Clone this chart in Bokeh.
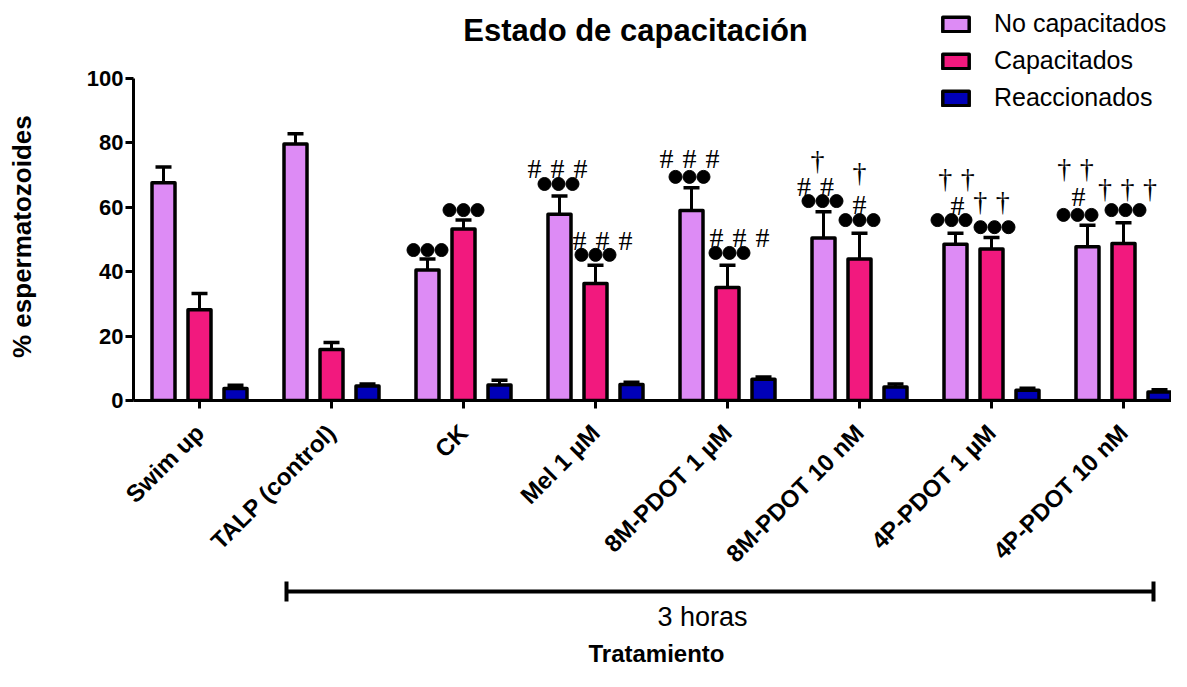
import numpy as np
from bokeh.plotting import figure
from bokeh.models import Range1d, FixedTicker, Legend, LegendItem, ColumnDataSource, Label
from bokeh.layouts import column
from bokeh.core.properties import value
from bokeh.embed import file_html
from bokeh.resources import INLINE

# ---------------- data ----------------
categories = ["Swim up", "TALP (control)", "CK", "Mel 1 µM", "8M-PDOT 1 µM",
              "8M-PDOT 10 nM", "4P-PDOT 1 µM", "4P-PDOT 10 nM"]
series_names = ["No capacitados", "Capacitados", "Reaccionados"]

no_cap = [67.6, 79.6, 40.5, 57.8, 59.0, 50.4, 48.5, 47.7]
no_cap_err = [4.9, 3.2, 3.4, 5.7, 7.0, 8.2, 3.4, 6.7]
cap = [28.2, 15.8, 53.2, 36.3, 35.1, 43.9, 47.0, 48.7]
cap_err = [5.0, 2.2, 2.8, 5.7, 6.9, 8.0, 3.6, 6.5]
react = [3.7, 4.5, 4.8, 5.0, 6.6, 4.2, 3.2, 2.6]
react_err = [1.0, 0.6, 1.5, 0.7, 0.7, 0.9, 0.6, 0.7]

# significance marks: (category index, series index, symbol, count, y level)
annotations = [
    (2, 0, "dot", 3, 46.7), (2, 1, "dot", 3, 59.1),
    (3, 0, "#", 3, 72.1), (3, 0, "dot", 3, 67.2),
    (3, 1, "#", 3, 49.8), (3, 1, "dot", 3, 45.2),
    (4, 0, "#", 3, 75.2), (4, 0, "dot", 3, 69.4),
    (4, 1, "#", 3, 50.5), (4, 1, "dot", 3, 45.8),
    (5, 0, "†", 1, 74.6), (5, 0, "#", 2, 66.3), (5, 0, "dot", 3, 61.9),
    (5, 1, "†", 1, 70.7), (5, 1, "#", 1, 60.7), (5, 1, "dot", 3, 56.0),
    (6, 0, "†", 2, 68.9), (6, 0, "#", 1, 60.4), (6, 0, "dot", 3, 56.0),
    (6, 1, "†", 2, 61.7), (6, 1, "dot", 3, 53.8),
    (7, 0, "†", 2, 72.0), (7, 0, "#", 1, 63.3), (7, 0, "dot", 3, 57.6),
    (7, 1, "†", 3, 65.9), (7, 1, "dot", 3, 59.1),
]
bracket_label = "3 horas"
bracket_span = (1, 7)
x_title = "Tratamiento"
y_title = "% espermatozoides"
chart_title = "Estado de capacitación"
y_ticks = [0, 20, 40, 60, 80, 100]

# ---------------- layout / style ----------------
W = 1171
ZERO_Y = 401                     # pixel row of y = 0
BOTTOM = 178                     # room for rotated tick labels
H1 = ZERO_Y + BOTTOM
H2 = 671 - H1
LEFT = 133
PX = 132.0                       # pixels per category
PY = 3.23                        # pixels per percent
FRAME_W = W - LEFT
colors = ["#DD8BF5", "#F2197E", "#0000B8"]
offsets_px = [-36, 0, 36]
bar_w_px = 23
ann_dx_px = [0, 0,
             -2, -1, 7, 0,
             -2, -2, 12, 2,
             -6, -8, -1, 0, 0, 0,
             1, 2, -4, 0, 3,
             -12, -9, -10, 4, 2]
sym_spacing = {"#": 23, "†": 22.5, "dot": 14}
FONT = "Liberation Sans"
NBSP = "\u00a0"


def xd(px):
    return (px - LEFT) / PX


def yd(py):
    return (ZERO_Y - py) / PY


p = figure(width=W, height=H1, x_range=Range1d(0, FRAME_W / PX), y_range=Range1d(0, ZERO_Y / PY),
           output_backend="svg", toolbar_location=None,
           min_border_left=LEFT, min_border_right=0, min_border_top=0,
           min_border_bottom=BOTTOM)
p.outline_line_color = None
p.xgrid.visible = False
p.ygrid.visible = False

p.add_layout(Label(x=xd(635), y=yd(30), text=chart_title, text_align="center",
                   text_baseline="middle", text_font=FONT, text_font_size="31px",
                   text_font_style="bold", text_color="black"))

xc = np.arange(len(categories)) + 0.5
values = [no_cap, cap, react]
errs = [no_cap_err, cap_err, react_err]
renderers = []
for s in range(3):
    xs = xc + offsets_px[s] / PX
    top = np.array(values[s])
    e = np.array(errs[s])
    src = ColumnDataSource(dict(x=xs, top=top, etop=top + e,
                                cl=xs - 8 / PX, cr=xs + 8 / PX))
    p.segment(x0="x", y0="top", x1="x", y1="etop", source=src, line_color="black", line_width=3)
    p.segment(x0="cl", y0="etop", x1="cr", y1="etop", source=src, line_color="black", line_width=3.5)
    r = p.vbar(x="x", top="top", bottom=0, width=bar_w_px / PX, source=src,
               fill_color=colors[s], line_color="black", line_width=3.5, line_join="round")
    renderers.append(r)

# annotations
dot_x, dot_y = [], []
txt_x, txt_y, txt_t = [], [], []
for (ci, si, sym, n, yv), dx in zip(annotations, ann_dx_px):
    base = xc[ci] + (offsets_px[si] + dx) / PX
    for k in range(n):
        x = base + (k - (n - 1) / 2) * sym_spacing[sym] / PX
        if sym == "dot":
            dot_x.append(x); dot_y.append(yv)
        else:
            txt_x.append(x); txt_y.append(yv); txt_t.append(sym)
p.scatter(x=dot_x, y=dot_y, size=13, marker="circle", fill_color="black", line_color="black")
p.text(x=txt_x, y=txt_y, text=txt_t, text_font=value("Liberation Serif"), text_font_size="28px",
       text_align="center", text_baseline="middle", text_color="black")

# axes
for ax in (p.xaxis[0], p.yaxis[0]):
    ax.axis_line_width = 3
    ax.major_tick_line_width = 3
    ax.major_tick_out = 8
    ax.major_tick_in = 0
    ax.minor_tick_line_color = None
    ax.major_label_text_font = FONT
    ax.major_label_text_font_style = "bold"
    ax.major_label_text_color = "black"

p.yaxis.bounds = (0, 100)
p.yaxis.ticker = FixedTicker(ticks=y_ticks)
p.yaxis.major_label_text_font_size = "22px"
p.yaxis.major_label_standoff = 2
# trailing no-break spaces shift the centred label down next to the 0-100 axis span
p.yaxis.axis_label = y_title + NBSP * 10
p.yaxis.axis_label_text_font = FONT
p.yaxis.axis_label_text_font_style = "bold"
p.yaxis.axis_label_text_font_size = "26px"
p.yaxis.axis_label_text_color = "black"
p.yaxis.axis_label_standoff = 47

p.xaxis.ticker = FixedTicker(ticks=list(xc))
p.xaxis.major_label_overrides = {float(x): c for x, c in zip(xc, categories)}
p.xaxis.major_label_orientation = np.pi / 4
p.xaxis.major_label_text_font_size = "24px"
p.xaxis.major_label_standoff = 20

legend = Legend(items=[LegendItem(label=n, renderers=[r]) for n, r in zip(series_names, renderers)],
                location=(806, 288), orientation="vertical",
                label_text_font=FONT, label_text_font_size="25px", label_text_color="black",
                glyph_width=33, glyph_height=18, label_standoff=22, spacing=8,
                padding=0, margin=0, border_line_color=None, background_fill_alpha=0)
p.add_layout(legend, "center")

# bottom strip: bracket and axis title
p2 = figure(width=W, height=H2, x_range=p.x_range, y_range=Range1d(H2, 0),
            output_backend="svg", toolbar_location=None,
            x_axis_location=None, y_axis_location=None,
            min_border_left=LEFT, min_border_right=0, min_border_top=0, min_border_bottom=0)
p2.outline_line_color = None
p2.xgrid.visible = False
p2.ygrid.visible = False
bx0 = xc[bracket_span[0]] - 45 / PX
bx1 = xc[bracket_span[1]] + 30 / PX
by = 591 - H1
p2.segment(x0=[bx0], y0=[by], x1=[bx1], y1=[by], line_color="black", line_width=4)
p2.segment(x0=[bx0, bx1], y0=[by - 10, by - 10], x1=[bx0, bx1], y1=[by + 10, by + 10],
           line_color="black", line_width=4)
p2.text(x=[xd(702)], y=[616 - H1], text=[bracket_label], text_font=value(FONT),
        text_font_size="27px", text_align="center", text_baseline="middle", text_color="black")
p2.text(x=[xd(656)], y=[653 - H1], text=[x_title], text_font=value(FONT), text_font_style="bold",
        text_font_size="24px", text_align="center", text_baseline="middle", text_color="black")

layout = column(p, p2, spacing=0)
open("out.html", "w").write(file_html(layout, INLINE))
